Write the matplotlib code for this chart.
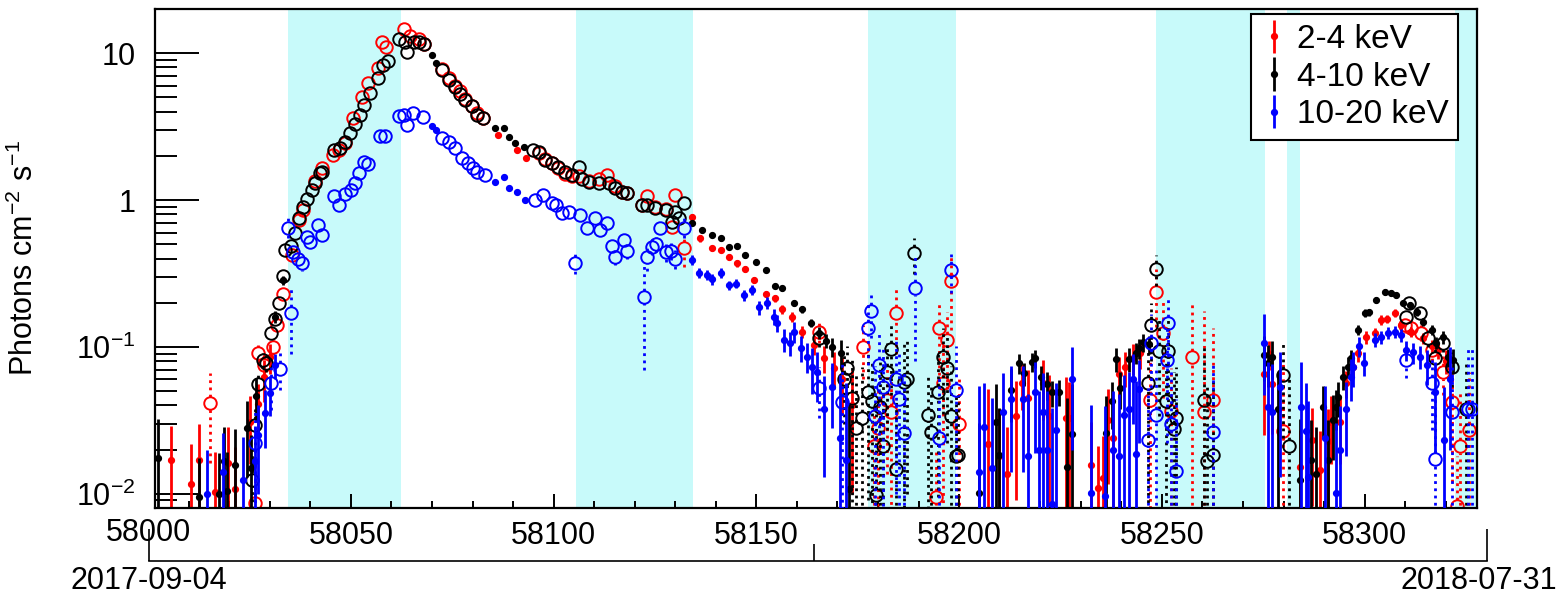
import matplotlib
matplotlib.use("Agg")
import matplotlib.pyplot as plt
import numpy as np
from matplotlib.ticker import FixedLocator, FixedFormatter, MultipleLocator, LogLocator, NullFormatter
from matplotlib.transforms import blended_transform_factory

plt.rcParams["font.family"] = ["Liberation Sans", "DejaVu Sans"]
plt.rcParams["mathtext.fontset"] = "custom"
plt.rcParams["mathtext.rm"] = "Liberation Sans"
plt.rcParams["mathtext.it"] = "Liberation Sans:italic"

# shaded intervals (MJD)
BAND_STARTS = [58034.5, 58105.5, 58177.6, 58248.6, 58280.9, 58322.3]
BAND_ENDS = [58062.4, 58134.4, 58199.3, 58275.5, 58284.1, 58330.0]

LABELS = ["2-4 keV", "4-10 keV", "10-20 keV"]
COLORS = ["#ff0000", "#000000", "#0000ff"]

# columns: MJD, flux, error  (solid error bars)
RED_FILLED = np.array([
    [58005.6, 0.0171, 0.012], [58010.7, 0.0117, 0.010], [58012.5, 0.0170, 0.013],
    [58016.5, 0.0103, 0.009], [58019.6, 0.0163, 0.012], [58021.4, 0.0107, 0.010],
    [58025.1, 0.031, 0.015], [58027.2, 0.041, 0.015], [58028.5, 0.062, 0.02],
    [58030.0, 0.085, 0.02],
    [58086.4, 2.77, 0.06], [58090.9, 2.19, 0.05], [58093.3, 1.93, 0.05],
    [58134.2, 0.77, 0.03], [58136.2, 0.55, 0.03], [58139.1, 0.47, 0.02],
    [58141.2, 0.46, 0.02], [58143.2, 0.41, 0.02], [58145.3, 0.37, 0.02],
    [58147.3, 0.34, 0.015], [58149.4, 0.286, 0.015], [58152.3, 0.23, 0.012],
    [58154.7, 0.215, 0.012], [58156.4, 0.18, 0.012], [58158.8, 0.16, 0.012],
    [58161.3, 0.127, 0.012], [58164.2, 0.103, 0.015], [58166.7, 0.084, 0.018],
    [58169.1, 0.072, 0.02], [58171.0, 0.060, 0.025], [58173.5, 0.040, 0.03],
    [58207.0, 0.0217, 0.03], [58209.9, 0.018, 0.02], [58211.7, 0.0136, 0.015],
    [58214.0, 0.034, 0.025], [58215.6, 0.057, 0.02], [58217.0, 0.045, 0.025],
    [58220.6, 0.057, 0.025], [58222.2, 0.034, 0.03], [58226.3, 0.0328, 0.03],
    [58227.0, 0.0328, 0.025],
    [58232.5, 0.0157, 0.015], [58234.2, 0.011, 0.01], [58235.4, 0.0129, 0.012],
    [58236.6, 0.0317, 0.02], [58238.0, 0.024, 0.02], [58239.5, 0.065, 0.02],
    [58241.0, 0.073, 0.02], [58242.8, 0.084, 0.02], [58244.6, 0.091, 0.02],
    [58275.1, 0.065, 0.04], [58276.5, 0.090, 0.02], [58277.1, 0.0555, 0.03],
    [58284.0, 0.0152, 0.012], [58286.9, 0.0233, 0.015], [58289.0, 0.0146, 0.012],
    [58291.0, 0.0227, 0.015], [58291.8, 0.031, 0.015], [58293.8, 0.031, 0.015],
    [58295.5, 0.057, 0.012], [58297.1, 0.073, 0.012], [58298.4, 0.091, 0.012],
    [58300.4, 0.117, 0.012], [58302.5, 0.125, 0.01], [58304.1, 0.153, 0.012],
    [58305.5, 0.155, 0.01], [58307.4, 0.17, 0.01], [58309.0, 0.14, 0.01],
    [58311.5, 0.127, 0.01], [58314.4, 0.115, 0.01], [58316.5, 0.101, 0.01],
    [58318.2, 0.095, 0.012], [58320.0, 0.080, 0.015],
])

# columns: MJD, flux, error  (dotted error bars, open circles)
RED_OPEN = np.array([
    [58015.2, 0.0413, 0.025], [58026.3, 0.0087, 0.008], [58027.2, 0.091, 0.012],
    [58028.6, 0.075, 0.012], [58030.9, 0.100, 0.012], [58031.7, 0.140, 0.012],
    [58033.3, 0.230, 0.02], [58035.4, 0.420, 0.03], [58037.2, 0.730, 0.03],
    [58038.3, 0.850, 0.03], [58041.2, 1.35, 0.04], [58042.8, 1.65, 0.05],
    [58045.7, 2.03, 0.05], [58047.1, 2.20, 0.05], [58048.5, 2.45, 0.05],
    [58050.6, 3.60, 0.08], [58052.7, 5.00, 0.1], [58054.3, 6.25, 0.1],
    [58056.8, 7.90, 0.15], [58057.6, 11.9, 0.2], [58058.6, 11.0, 0.2],
    [58063.0, 14.6, 0.3], [58064.5, 13.0, 0.3], [58066.7, 12.5, 0.3],
    [58068.0, 11.5, 0.3], [58072.4, 7.80, 0.15], [58074.1, 6.80, 0.15],
    [58075.7, 6.00, 0.1], [58077.0, 5.50, 0.1], [58078.2, 4.90, 0.1],
    [58079.8, 4.40, 0.1], [58081.1, 3.90, 0.08], [58082.7, 3.60, 0.08],
    [58096.3, 2.10, 0.05], [58097.9, 1.90, 0.05], [58099.6, 1.80, 0.05],
    [58101.2, 1.65, 0.05], [58102.9, 1.50, 0.04], [58104.5, 1.45, 0.04],
    [58106.2, 1.45, 0.04], [58108.6, 1.35, 0.04], [58111.1, 1.40, 0.04],
    [58113.1, 1.48, 0.04], [58115.2, 1.25, 0.04], [58116.8, 1.13, 0.04],
    [58118.1, 1.12, 0.04], [58121.8, 0.92, 0.03], [58123.0, 1.06, 0.03],
    [58125.1, 0.90, 0.03], [58127.6, 0.87, 0.03], [58129.2, 0.66, 0.05],
    [58130.0, 1.08, 0.04], [58132.1, 0.47, 0.12], [58165.4, 0.127, 0.02],
    [58176.3, 0.100, 0.04], [58179.0, 0.021, 0.02], [58180.0, 0.028, 0.025],
    [58182.3, 0.0436, 0.03], [58183.1, 0.036, 0.03], [58184.4, 0.170, 0.08],
    [58194.2, 0.0095, 0.01], [58195.0, 0.134, 0.07], [58195.9, 0.057, 0.05],
    [58197.1, 0.112, 0.06], [58197.9, 0.280, 0.15], [58200.0, 0.030, 0.03],
    [58247.0, 0.0436, 0.04], [58248.6, 0.237, 0.1], [58250.2, 0.125, 0.08],
    [58252.2, 0.0365, 0.035], [58257.4, 0.085, 0.12], [58260.3, 0.036, 0.14],
    [58262.5, 0.0436, 0.09], [58279.8, 0.0266, 0.05], [58309.9, 0.140, 0.015],
    [58311.5, 0.134, 0.015], [58314.0, 0.125, 0.015], [58316.5, 0.095, 0.015],
    [58319.3, 0.067, 0.02], [58321.5, 0.042, 0.03], [58322.7, 0.0082, 0.01],
    [58323.5, 0.021, 0.03], [58325.8, 0.0273, 0.04],
])

BLACK_FILLED = np.array([
    [58002.5, 0.0175, 0.015], [58012.5, 0.0095, 0.008], [58017.5, 0.0100, 0.009],
    [58018.8, 0.0167, 0.012], [58019.5, 0.0104, 0.009], [58021.4, 0.0157, 0.012],
    [58024.3, 0.028, 0.015], [58025.4, 0.015, 0.01], [58026.7, 0.046, 0.015],
    [58031.3, 0.160, 0.015], [58033.3, 0.286, 0.02],
    [58069.9, 9.7, 0.2], [58070.9, 8.6, 0.2], [58085.6, 3.09, 0.06],
    [58087.7, 3.09, 0.06], [58088.9, 2.68, 0.05], [58090.5, 2.44, 0.05],
    [58092.6, 2.30, 0.05],
    [58134.2, 0.70, 0.02], [58136.6, 0.625, 0.02], [58139.1, 0.58, 0.02],
    [58141.2, 0.55, 0.02], [58143.2, 0.48, 0.015], [58145.3, 0.49, 0.015],
    [58147.3, 0.42, 0.015], [58149.8, 0.38, 0.015], [58152.3, 0.334, 0.012],
    [58154.7, 0.26, 0.01], [58156.4, 0.25, 0.01], [58159.3, 0.20, 0.01],
    [58161.3, 0.18, 0.01], [58163.4, 0.146, 0.01], [58165.4, 0.125, 0.012],
    [58167.1, 0.110, 0.012], [58168.7, 0.100, 0.015], [58170.8, 0.091, 0.02],
    [58172.8, 0.0107, 0.03],
    [58204.9, 0.0102, 0.02], [58209.0, 0.031, 0.025], [58209.9, 0.0184, 0.02],
    [58212.7, 0.051, 0.02], [58214.8, 0.0775, 0.012], [58216.0, 0.066, 0.012],
    [58217.9, 0.0795, 0.012], [58218.8, 0.084, 0.012], [58220.2, 0.0625, 0.012],
    [58221.7, 0.0555, 0.012], [58223.0, 0.049, 0.01], [58224.5, 0.0495, 0.01],
    [58226.7, 0.0152, 0.03], [58227.8, 0.0257, 0.03],
    [58236.2, 0.026, 0.02], [58237.7, 0.0425, 0.015], [58238.7, 0.083, 0.015],
    [58239.7, 0.0525, 0.015], [58242.0, 0.083, 0.015], [58243.6, 0.091, 0.015],
    [58244.4, 0.098, 0.015], [58245.3, 0.108, 0.015], [58246.7, 0.104, 0.015],
    [58275.1, 0.0885, 0.03], [58276.1, 0.078, 0.025], [58277.1, 0.085, 0.025],
    [58278.6, 0.038, 0.03], [58284.0, 0.0125, 0.02], [58286.8, 0.017, 0.015],
    [58287.9, 0.0136, 0.015], [58289.7, 0.039, 0.015], [58290.9, 0.017, 0.015],
    [58292.1, 0.0319, 0.015], [58293.0, 0.039, 0.012], [58293.4, 0.0455, 0.012],
    [58294.6, 0.0625, 0.012], [58295.9, 0.073, 0.012], [58296.7, 0.084, 0.012],
    [58298.4, 0.131, 0.01], [58300.0, 0.170, 0.01], [58301.0, 0.172, 0.01],
    [58302.9, 0.210, 0.01], [58305.0, 0.237, 0.01], [58306.6, 0.233, 0.01],
    [58307.8, 0.225, 0.01], [58309.5, 0.200, 0.01], [58311.1, 0.193, 0.01],
    [58312.8, 0.173, 0.01], [58314.4, 0.148, 0.01], [58316.5, 0.131, 0.01],
    [58317.7, 0.107, 0.01], [58319.3, 0.117, 0.012], [58320.5, 0.085, 0.012],
    [58321.8, 0.0816, 0.015],
])

BLACK_OPEN = np.array([
    [58025.5, 0.0125, 0.008], [58026.3, 0.0292, 0.01], [58027.2, 0.0555, 0.01],
    [58028.4, 0.0816, 0.01], [58029.0, 0.078, 0.01], [58030.3, 0.125, 0.01],
    [58031.3, 0.154, 0.01], [58032.3, 0.200, 0.015], [58033.2, 0.305, 0.03],
    [58033.7, 0.457, 0.02], [58035.2, 0.49, 0.02], [58036.2, 0.60, 0.02],
    [58037.2, 0.76, 0.02], [58038.3, 0.90, 0.03], [58039.3, 1.02, 0.03],
    [58040.3, 1.17, 0.03], [58041.2, 1.30, 0.03], [58042.4, 1.53, 0.04],
    [58043.0, 1.55, 0.04], [58045.9, 2.20, 0.05], [58047.3, 2.25, 0.05],
    [58048.6, 2.48, 0.05], [58049.8, 2.86, 0.06], [58051.0, 3.28, 0.06],
    [58052.3, 3.79, 0.08], [58053.3, 4.43, 0.08], [58054.7, 5.34, 0.1],
    [58056.8, 6.76, 0.1], [58058.0, 8.30, 0.15], [58059.1, 8.80, 0.15],
    [58061.9, 12.4, 0.2], [58063.4, 11.9, 0.2], [58063.8, 10.2, 0.2],
    [58065.5, 12.0, 0.2], [58066.7, 11.9, 0.2], [58068.0, 11.6, 0.2],
    [58072.4, 7.66, 0.15], [58074.1, 6.55, 0.12], [58075.7, 5.90, 0.1],
    [58077.0, 5.30, 0.1], [58078.2, 4.79, 0.1], [58079.8, 4.36, 0.08],
    [58081.1, 3.79, 0.08], [58082.7, 3.60, 0.08], [58095.0, 2.20, 0.05],
    [58096.3, 2.12, 0.05], [58097.9, 1.87, 0.04], [58099.6, 1.78, 0.04],
    [58101.2, 1.67, 0.04], [58102.9, 1.55, 0.04], [58104.5, 1.48, 0.04],
    [58106.2, 1.67, 0.04], [58107.0, 1.40, 0.04], [58108.6, 1.33, 0.03],
    [58111.1, 1.30, 0.03], [58113.6, 1.30, 0.03], [58115.2, 1.21, 0.03],
    [58116.8, 1.13, 0.03], [58118.1, 1.11, 0.03], [58121.8, 0.93, 0.03],
    [58123.0, 0.93, 0.03], [58125.1, 0.88, 0.03], [58127.6, 0.855, 0.03],
    [58129.2, 0.71, 0.03], [58130.0, 0.83, 0.03], [58131.0, 0.75, 0.03],
    [58132.1, 0.95, 0.04], [58165.4, 0.115, 0.015],
    [58171.6, 0.060, 0.03], [58172.4, 0.072, 0.03], [58173.7, 0.045, 0.04],
    [58174.5, 0.028, 0.04], [58176.1, 0.033, 0.04], [58177.4, 0.049, 0.04],
    [58178.4, 0.0425, 0.04], [58179.4, 0.0098, 0.03], [58180.6, 0.039, 0.04],
    [58181.2, 0.021, 0.04], [58182.3, 0.067, 0.04], [58183.1, 0.097, 0.05],
    [58184.4, 0.0148, 0.03], [58186.5, 0.058, 0.05], [58187.2, 0.060, 0.05],
    [58188.9, 0.435, 0.12], [58192.2, 0.0345, 0.03], [58193.0, 0.0265, 0.03],
    [58194.9, 0.0495, 0.04], [58196.0, 0.085, 0.05], [58197.1, 0.072, 0.05],
    [58197.9, 0.034, 0.04], [58199.2, 0.018, 0.03], [58199.8, 0.0185, 0.03],
    [58246.5, 0.057, 0.05], [58247.3, 0.140, 0.06], [58248.6, 0.340, 0.08],
    [58249.4, 0.094, 0.06], [58251.0, 0.0425, 0.04], [58251.6, 0.094, 0.06],
    [58252.9, 0.0275, 0.04], [58253.5, 0.033, 0.04], [58260.3, 0.0436, 0.06],
    [58261.1, 0.0166, 0.04], [58262.5, 0.0184, 0.04], [58279.8, 0.064, 0.04],
    [58281.3, 0.021, 0.04], [58310.3, 0.160, 0.015], [58311.0, 0.200, 0.015],
    [58313.6, 0.170, 0.015], [58315.6, 0.115, 0.015], [58317.3, 0.084, 0.015],
    [58319.3, 0.107, 0.015], [58321.6, 0.073, 0.02], [58325.1, 0.0375, 0.04],
])

BLUE_FILLED = np.array([
    [58014.6, 0.0099, 0.01], [58018.5, 0.0141, 0.012], [58023.5, 0.0125, 0.012],
    [58026.3, 0.0168, 0.012], [58027.2, 0.025, 0.015], [58028.8, 0.0355, 0.015],
    [58030.0, 0.0487, 0.015], [58031.3, 0.075, 0.015],
    [58069.9, 3.19, 0.06], [58070.9, 3.00, 0.06], [58085.6, 1.33, 0.03],
    [58087.7, 1.43, 0.03], [58088.9, 1.21, 0.03], [58090.9, 1.13, 0.03],
    [58093.0, 1.00, 0.03],
    [58134.2, 0.39, 0.03], [58135.8, 0.32, 0.025], [58137.9, 0.31, 0.025],
    [58139.1, 0.29, 0.025], [58141.2, 0.32, 0.025], [58143.2, 0.263, 0.02],
    [58145.0, 0.27, 0.02], [58146.9, 0.226, 0.02], [58148.9, 0.244, 0.02],
    [58150.6, 0.186, 0.02], [58152.7, 0.200, 0.02], [58154.3, 0.160, 0.02],
    [58155.1, 0.146, 0.02], [58156.8, 0.112, 0.02], [58158.4, 0.107, 0.02],
    [58159.3, 0.127, 0.02], [58160.9, 0.0985, 0.02], [58162.5, 0.086, 0.02],
    [58163.8, 0.073, 0.025], [58165.0, 0.067, 0.025], [58166.7, 0.038, 0.025],
    [58168.7, 0.053, 0.025], [58170.5, 0.024, 0.04], [58172.0, 0.017, 0.04],
    [58204.9, 0.014, 0.04], [58206.2, 0.0286, 0.028], [58208.0, 0.0149, 0.03],
    [58210.9, 0.036, 0.03], [58212.9, 0.044, 0.03], [58215.8, 0.044, 0.03],
    [58216.9, 0.018, 0.03], [58218.8, 0.049, 0.03], [58219.8, 0.0199, 0.03],
    [58220.6, 0.036, 0.03], [58221.7, 0.020, 0.03], [58222.8, 0.0085, 0.03],
    [58223.8, 0.027, 0.03], [58227.8, 0.060, 0.04],
    [58232.5, 0.0102, 0.03], [58236.0, 0.0097, 0.03], [58237.9, 0.0199, 0.03],
    [58239.5, 0.018, 0.03], [58240.7, 0.0345, 0.03], [58241.8, 0.038, 0.03],
    [58242.8, 0.060, 0.03], [58243.6, 0.0187, 0.04], [58244.4, 0.052, 0.03],
    [58275.1, 0.107, 0.06], [58276.1, 0.039, 0.04], [58277.1, 0.036, 0.04],
    [58279.0, 0.053, 0.04], [58284.2, 0.039, 0.04], [58285.5, 0.0266, 0.03],
    [58286.0, 0.013, 0.03], [58290.1, 0.024, 0.03], [58293.0, 0.0102, 0.02],
    [58293.8, 0.0199, 0.02], [58295.5, 0.038, 0.02], [58296.7, 0.0625, 0.02],
    [58297.0, 0.073, 0.02], [58298.7, 0.101, 0.015], [58299.9, 0.078, 0.015],
    [58302.5, 0.112, 0.012], [58304.1, 0.117, 0.012], [58305.8, 0.125, 0.012],
    [58307.4, 0.127, 0.012], [58309.0, 0.120, 0.012], [58310.3, 0.095, 0.015],
    [58312.0, 0.092, 0.015], [58313.6, 0.086, 0.015], [58315.3, 0.075, 0.02],
    [58317.3, 0.049, 0.03], [58319.6, 0.0233, 0.03], [58321.0, 0.060, 0.04],
])

BLUE_OPEN = np.array([
    [58026.3, 0.022, 0.015], [58030.3, 0.057, 0.02], [58032.5, 0.071, 0.02],
    [58034.4, 0.65, 0.1], [58035.2, 0.17, 0.08], [58035.8, 0.44, 0.04],
    [58036.9, 0.40, 0.04], [58038.0, 0.37, 0.04], [58039.1, 0.56, 0.04],
    [58040.0, 0.52, 0.04], [58042.0, 0.68, 0.04], [58043.0, 0.58, 0.04],
    [58045.9, 1.06, 0.05], [58047.1, 0.93, 0.05], [58048.5, 1.10, 0.05],
    [58050.0, 1.17, 0.05], [58051.0, 1.30, 0.05], [58052.0, 1.53, 0.05],
    [58053.3, 1.82, 0.05], [58054.3, 1.75, 0.05], [58057.2, 2.72, 0.1],
    [58058.4, 2.75, 0.1], [58061.9, 3.73, 0.1], [58063.0, 3.79, 0.1],
    [58063.8, 3.24, 0.1], [58065.4, 3.90, 0.1], [58067.9, 3.67, 0.1],
    [58072.4, 2.63, 0.08], [58074.1, 2.48, 0.08], [58075.7, 2.26, 0.06],
    [58077.4, 1.93, 0.06], [58079.0, 1.78, 0.05], [58080.2, 1.65, 0.05],
    [58081.1, 1.55, 0.05], [58083.1, 1.48, 0.05], [58095.5, 1.00, 0.03],
    [58097.5, 1.08, 0.03], [58099.6, 0.95, 0.03], [58100.5, 0.92, 0.03],
    [58102.0, 0.82, 0.03], [58103.7, 0.83, 0.03], [58105.3, 0.373, 0.06],
    [58106.6, 0.79, 0.03], [58108.2, 0.65, 0.04], [58110.3, 0.76, 0.04],
    [58111.5, 0.625, 0.04], [58113.2, 0.70, 0.04], [58114.4, 0.49, 0.05],
    [58115.2, 0.41, 0.05], [58117.3, 0.535, 0.05], [58118.1, 0.45, 0.05],
    [58122.2, 0.22, 0.15], [58123.0, 0.41, 0.08], [58124.3, 0.48, 0.06],
    [58125.3, 0.50, 0.06], [58126.3, 0.65, 0.06], [58127.6, 0.44, 0.06],
    [58129.0, 0.45, 0.06], [58130.0, 0.40, 0.06], [58132.1, 0.65, 0.1],
    [58165.4, 0.0526, 0.02], [58171.1, 0.042, 0.04], [58177.4, 0.135, 0.06],
    [58178.2, 0.175, 0.06], [58179.3, 0.034, 0.04], [58180.2, 0.075, 0.05],
    [58181.2, 0.053, 0.05], [58184.4, 0.060, 0.05], [58185.2, 0.044, 0.05],
    [58186.3, 0.026, 0.04], [58189.1, 0.250, 0.17], [58195.0, 0.024, 0.04],
    [58197.9, 0.334, 0.1], [58199.2, 0.051, 0.05], [58246.5, 0.0233, 0.03],
    [58247.4, 0.107, 0.06], [58248.6, 0.0345, 0.04], [58251.2, 0.082, 0.06],
    [58251.4, 0.146, 0.07], [58252.2, 0.030, 0.04], [58253.5, 0.0142, 0.03],
    [58262.5, 0.0263, 0.05], [58310.3, 0.0816, 0.02], [58316.5, 0.057, 0.03],
    [58317.3, 0.0172, 0.03], [58321.5, 0.036, 0.04], [58325.6, 0.038, 0.06],
    [58326.5, 0.0375, 0.06],
])

Y_TICKS = [0.01, 0.1, 1, 10]
Y_TICK_LABELS = [r"$10^{-2}$", r"$10^{-1}$", "1", "10"]
DATE_TICKS = [58000, 58330]
DATE_LABELS = ["2017-09-04", "2018-07-31"]

W, H = 1562, 598
fig = plt.figure(figsize=(W / 100, H / 100), dpi=100)
ax = fig.add_axes([155 / W, 90 / H, 1322 / W, 499 / H])

for start, end in zip(BAND_STARTS, BAND_ENDS):
    ax.axvspan(start, end, color="#c8fafa", lw=0, zorder=0)


def open_points(axis, data, color, z):
    # dotted error bars that stop at the rim of the hollow marker
    x, y, e = data[:, 0], data[:, 1], data[:, 2]
    rim = 1.1
    hi = y + e
    lo = np.clip(y - e, 1e-4, None)
    up = hi > y * rim
    dn = lo < y / rim
    dots = (0, (1, 1.6))
    axis.vlines(x[up], y[up] * rim, hi[up], colors=color, linewidth=2.0, linestyles=[dots], zorder=z)
    axis.vlines(x[dn], lo[dn], y[dn] / rim, colors=color, linewidth=2.0, linestyles=[dots], zorder=z)
    axis.plot(x, y, "o", ms=9, mfc="none", mec=color, mew=1.4, ls="none", zorder=z)


handles = []
for k, (filled, hollow, color) in enumerate(zip([RED_FILLED, BLACK_FILLED, BLUE_FILLED],
                                                [RED_OPEN, BLACK_OPEN, BLUE_OPEN], COLORS)):
    open_points(ax, hollow, color, 2 + k)
    eb = ax.errorbar(filled[:, 0], filled[:, 1], yerr=filled[:, 2], fmt="o", ms=4.2,
                     color=color, ecolor=color, elinewidth=2.0, capsize=0, zorder=2 + k)
    handles.append(eb)

ax.set_yscale("log")
ax.set_xlim(58001.7, 58327.7)
ax.set_ylim(0.008, 20)

ax.yaxis.set_major_locator(FixedLocator(Y_TICKS))
ax.yaxis.set_major_formatter(FixedFormatter(Y_TICK_LABELS))
ax.yaxis.set_minor_locator(LogLocator(base=10, subs=np.arange(2, 10)))
ax.yaxis.set_minor_formatter(NullFormatter())
ax.xaxis.set_major_locator(MultipleLocator(50))
ax.xaxis.set_minor_locator(MultipleLocator(10))

ax.tick_params(axis="y", which="major", direction="in", length=32, width=1.4, labelsize=22, pad=14)
ax.tick_params(axis="y", which="minor", direction="in", length=16, width=1.4)
ax.tick_params(axis="x", which="major", direction="in", length=10, width=1.4, labelsize=22, pad=9)
ax.tick_params(axis="x", which="minor", direction="in", length=5, width=1.4)
ax.tick_params(top=False, right=False)
for spine in ax.spines.values():
    spine.set_linewidth(1.6)

# first label sits just left of the frame
trans = blended_transform_factory(ax.transData, ax.transAxes)
ax.text(58000, -0.021, "58000", transform=trans, ha="center", va="top", fontsize=22, clip_on=False)

ax.set_ylabel(r"Photons cm$^{-2}$ s$^{-1}$", fontsize=22)
ax.yaxis.set_label_coords(-0.087, 0.5)

leg = ax.legend(handles, LABELS, loc="upper right", bbox_to_anchor=(0.986, 0.99), fontsize=24,
                frameon=True, fancybox=False, edgecolor="black", framealpha=1, borderaxespad=0,
                handlelength=0.8, handletextpad=0.28, borderpad=0.3, labelspacing=0.2)
leg.get_frame().set_linewidth(1.5)
leg.set_zorder(10)

# date axis below
ax2 = fig.add_axes([149 / W, 37 / H, 1338 / W, 0.02])
ax2.set_xlim(58000, 58330)
ax2.set_ylim(0, 1)
for name in ["top", "left", "right"]:
    ax2.spines[name].set_visible(False)
ax2.spines["bottom"].set_linewidth(1.2)
ax2.patch.set_alpha(0)
ax2.set_yticks([])
ax2.set_xticks(DATE_TICKS)
ax2.set_xticklabels([])
ax2.set_xticks([58164], minor=True)
ax2.tick_params(axis="x", which="major", direction="in", length=23, width=1.2)
ax2.tick_params(axis="x", which="minor", direction="in", length=12, width=1.2)

date_trans = blended_transform_factory(ax2.transData, fig.transFigure)
ax2.text(DATE_TICKS[0], 0.028, DATE_LABELS[0], transform=date_trans, ha="center", va="center",
         fontsize=22, clip_on=False)
ax2.text(DATE_TICKS[1] + 17.2, 0.028, DATE_LABELS[1], transform=date_trans, ha="right", va="center",
         fontsize=22, clip_on=False)

fig.savefig("out.png", dpi=100)
